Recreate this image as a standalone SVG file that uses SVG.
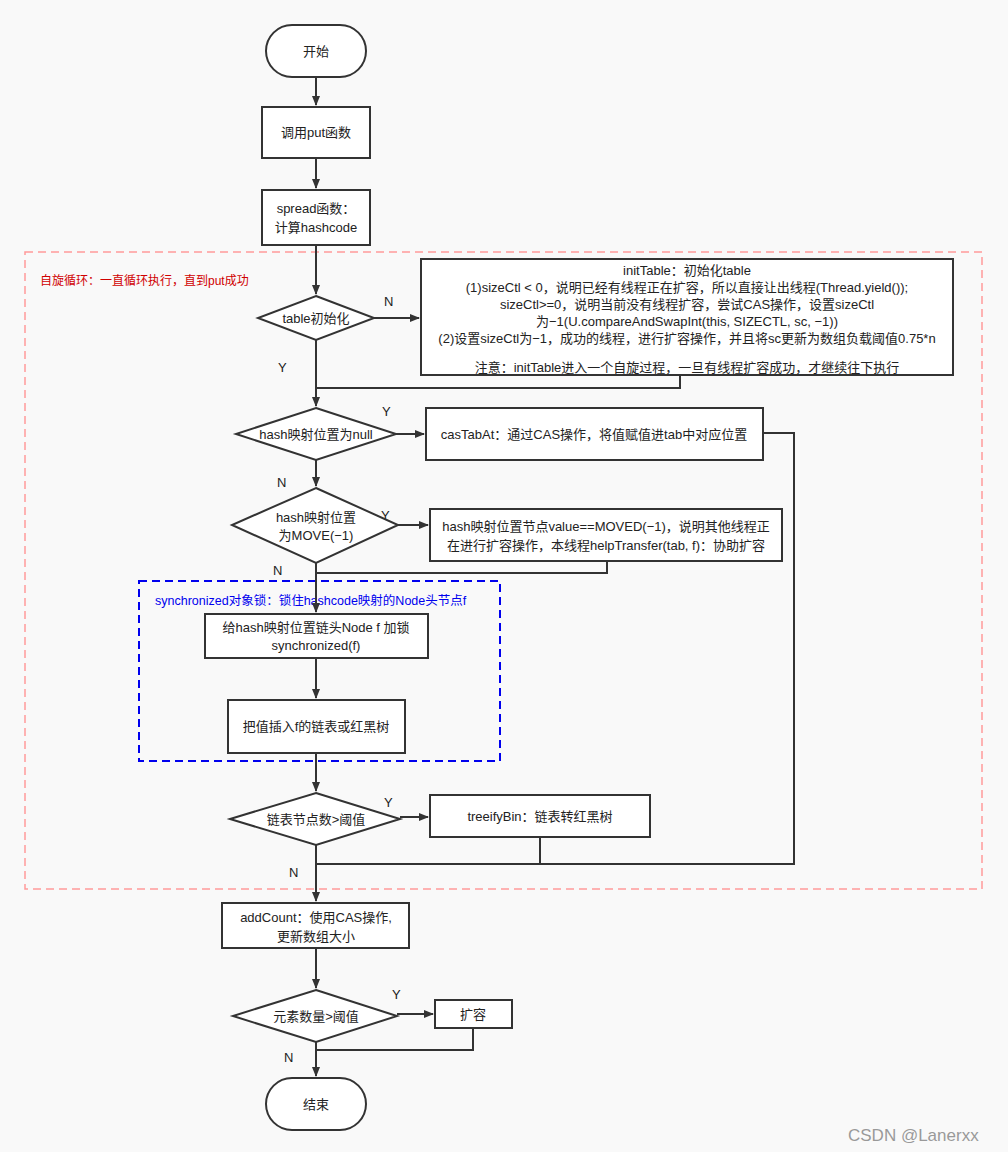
<svg xmlns="http://www.w3.org/2000/svg" width="1008" height="1152" viewBox="0 0 1008 1152">
<defs>
<marker id="ar" markerWidth="10" markerHeight="10" refX="9" refY="5" orient="auto" markerUnits="userSpaceOnUse"><path d="M0,1 L10,5 L0,9 Z" fill="#333"/></marker>
<style>
.n{fill:#fff;stroke:#333;stroke-width:2}
.t{font-family:"Liberation Sans","Noto Sans CJK SC",sans-serif;font-size:13px;fill:#222;text-anchor:middle}
.l{font-family:"Liberation Sans","Noto Sans CJK SC",sans-serif;font-size:13px;fill:#222}
.c{fill:none;stroke:#333;stroke-width:2}
</style>
</defs>
<rect width="1008" height="1152" fill="#f9f9f9"/>
<rect x="25" y="252" width="957" height="637" fill="none" stroke="#ff9a9a" stroke-width="1.5" stroke-dasharray="8,5"/>
<text x="40" y="285" font-family="Liberation Sans,Noto Sans CJK SC,sans-serif" font-size="12" fill="#d00000">自旋循环：一直循环执行，直到put成功</text>
<rect x="139" y="581" width="361" height="180" fill="none" stroke="#0000ee" stroke-width="2" stroke-dasharray="8,5"/>
<text x="155" y="605" font-family="Liberation Sans,Noto Sans CJK SC,sans-serif" font-size="12.5" fill="#0000ee">synchronized对象锁：锁住hashcode映射的Node头节点f</text>
<g id="connectors">
<path class="c" d="M316,77 V105" marker-end="url(#ar)"/>
<path class="c" d="M316,158 V188" marker-end="url(#ar)"/>
<path class="c" d="M316,245 V294" marker-end="url(#ar)"/>
<path class="c" d="M374,318 H419" marker-end="url(#ar)"/>
<path class="c" d="M316,340 V406" marker-end="url(#ar)"/>
<path class="c" d="M680,375 V388 H316"/>
<path class="c" d="M396,434 H424" marker-end="url(#ar)"/>
<path class="c" d="M763,433 H794 V864 H316"/>
<path class="c" d="M316,460 V486" marker-end="url(#ar)"/>
<path class="c" d="M398,525 H428" marker-end="url(#ar)"/>
<path class="c" d="M607,561 V573 H316"/>
<path class="c" d="M316,563 V612" marker-end="url(#ar)"/>
<path class="c" d="M316,658 V698" marker-end="url(#ar)"/>
<path class="c" d="M316,753 V791" marker-end="url(#ar)"/>
<path class="c" d="M400,817 H428" marker-end="url(#ar)"/>
<path class="c" d="M540,837 V864"/>
<path class="c" d="M316,845 V901" marker-end="url(#ar)"/>
<path class="c" d="M316,948 V988" marker-end="url(#ar)"/>
<path class="c" d="M397,1014 H433" marker-end="url(#ar)"/>
<path class="c" d="M473,1028 V1050 H316"/>
<path class="c" d="M316,1042 V1076" marker-end="url(#ar)"/>
<text class="l" x="384" y="306">N</text>
<text class="l" x="278" y="372">Y</text>
<text class="l" x="382" y="416">Y</text>
<text class="l" x="277" y="487">N</text>
<text class="l" x="381" y="520">Y</text>
<text class="l" x="273" y="575">N</text>
<text class="l" x="384" y="807">Y</text>
<text class="l" x="289" y="877">N</text>
<text class="l" x="392" y="999">Y</text>
<text class="l" x="284" y="1062">N</text>
</g>
<g id="start"><rect class="n" x="266" y="25" width="100" height="52" rx="26"/><text class="t" x="316" y="56">开始</text></g>
<g id="put"><rect class="n" x="262" y="107" width="108" height="51"/><text class="t" x="316" y="137">调用put函数</text></g>
<g id="spread"><rect class="n" x="262" y="190" width="108" height="55"/><text class="t" x="316" y="213">spread函数：</text><text class="t" x="316" y="232">计算hashcode</text></g>
<g id="d1"><path class="n" d="M316,296 L374,318 L316,340 L258,318 Z"/><text class="t" x="316" y="323">table初始化</text></g>
<g id="initTable"><rect class="n" x="421" y="259" width="532" height="116"/>
<text class="t" x="687" y="275">initTable：初始化table</text>
<text class="t" x="687" y="292">(1)sizeCtl &lt; 0，说明已经有线程正在扩容，所以直接让出线程(Thread.yield());</text>
<text class="t" x="687" y="309">sizeCtl&gt;=0，说明当前没有线程扩容，尝试CAS操作，设置sizeCtl</text>
<text class="t" x="687" y="326">为−1(U.compareAndSwapInt(this, SIZECTL, sc, −1))</text>
<text class="t" x="687" y="343">(2)设置sizeCtl为−1，成功的线程，进行扩容操作，并且将sc更新为数组负载阈值0.75*n</text>
<text class="t" x="687" y="372">注意：initTable进入一个自旋过程，一旦有线程扩容成功，才继续往下执行</text></g>
<g id="d2"><path class="n" d="M316,408 L396,434 L316,460 L236,434 Z"/><text class="t" x="316" y="439">hash映射位置为null</text></g>
<g id="cas"><rect class="n" x="426" y="408" width="337" height="52"/><text class="t" x="594" y="439">casTabAt：通过CAS操作，将值赋值进tab中对应位置</text></g>
<g id="d3"><path class="n" d="M316,488 L398,525 L316,563 L232,525 Z"/><text class="t" x="316" y="522">hash映射位置</text><text class="t" x="316" y="540">为MOVE(−1)</text></g>
<g id="moved"><rect class="n" x="430" y="509" width="352" height="52"/><text class="t" x="606" y="531">hash映射位置节点value==MOVED(−1)，说明其他线程正</text><text class="t" x="606" y="550">在进行扩容操作，本线程helpTransfer(tab, f)：协助扩容</text></g>
<g id="lock"><rect class="n" x="205" y="614" width="223" height="44"/><text class="t" x="316" y="632">给hash映射位置链头Node f 加锁</text><text class="t" x="316" y="650">synchronized(f)</text></g>
<g id="insert"><rect class="n" x="228" y="700" width="177" height="53"/><text class="t" x="316" y="731">把值插入f的链表或红黑树</text></g>
<g id="d4"><path class="n" d="M316,793 L400,819 L316,845 L230,819 Z"/><text class="t" x="316" y="824">链表节点数&gt;阈值</text></g>
<g id="treeify"><rect class="n" x="430" y="795" width="220" height="42"/><text class="t" x="540" y="821">treeifyBin：链表转红黑树</text></g>
<g id="addCount"><rect class="n" x="222" y="903" width="187" height="45"/><text class="t" x="316" y="922">addCount：使用CAS操作,</text><text class="t" x="316" y="941">更新数组大小</text></g>
<g id="d5"><path class="n" d="M316,990 L397,1016 L316,1042 L233,1016 Z"/><text class="t" x="316" y="1021">元素数量&gt;阈值</text></g>
<g id="resize"><rect class="n" x="435" y="1000" width="77" height="28"/><text class="t" x="473" y="1019">扩容</text></g>
<g id="end"><rect class="n" x="266" y="1078" width="100" height="52" rx="26"/><text class="t" x="316" y="1109">结束</text></g>
<text x="848" y="1141" font-family="Liberation Sans,Noto Sans CJK SC,sans-serif" font-size="17" fill="#999">CSDN @Lanerxx</text>
</svg>
